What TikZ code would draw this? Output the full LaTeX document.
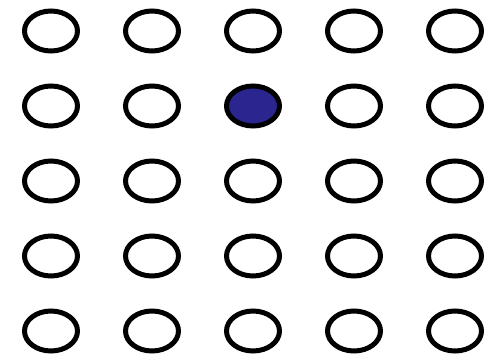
\documentclass[tikz,border=0pt]{standalone}
\definecolor{dotblue}{HTML}{2B2590}
\tikzset{ring/.style={draw=black,line width=5pt,ellipse,minimum width=53pt,minimum height=40pt,inner sep=0pt},
filled/.style={ring,fill=dotblue}}
\usetikzlibrary{shapes.geometric}
\begin{document}
\begin{tikzpicture}[x=1pt,y=-1pt]
\useasboundingbox (0,0) rectangle (495,358);
\foreach \r [count=\i] in {31,106,181,256,331}{
  \foreach \c [count=\j] in {51,152,253,354,455}{
    \ifnum\i=2 \ifnum\j=3
      \node[filled] (n\i\j) at (\c,\r) {};
    \else
      \node[ring] (n\i\j) at (\c,\r) {};
    \fi\else
      \node[ring] (n\i\j) at (\c,\r) {};
    \fi
  }
}
\end{tikzpicture}
\end{document}
